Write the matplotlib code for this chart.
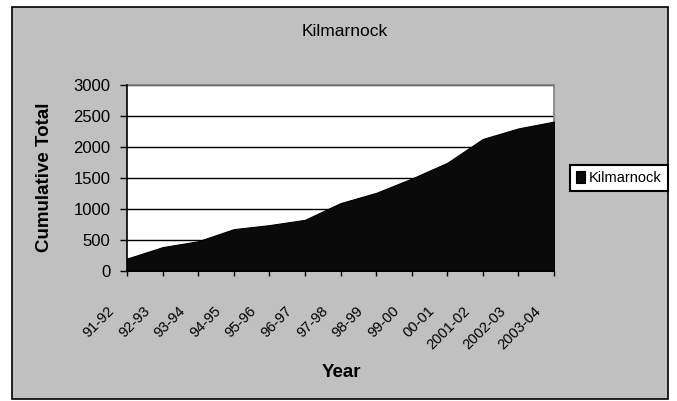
import matplotlib
matplotlib.use("Agg")
import matplotlib.pyplot as plt
import matplotlib.transforms as mtransforms
from matplotlib.patches import Rectangle
import numpy as np

plt.rcParams["font.family"] = ["Liberation Sans", "DejaVu Sans"]

PNG_OUT = "out.png"

TITLE = "Kilmarnock"
SERIES_NAME = "Kilmarnock"
YEARS = ["91-92", "92-93", "93-94", "94-95", "95-96", "96-97", "97-98",
         "98-99", "99-00", "00-01", "2001-02", "2002-03", "2003-04"]
CUMULATIVE = [200, 385, 480, 675, 740, 825, 1095, 1260, 1490, 1745, 2130, 2300, 2410]
Y_TICKS = [0, 500, 1000, 1500, 2000, 2500, 3000]

W, H = 677, 401


def plot_cumulative(path=PNG_OUT):
    fig = plt.figure(figsize=(W / 100, H / 100), dpi=100, facecolor="white")

    # grey chart area with black border, kept behind the axes
    fig.patches.append(Rectangle((12 / W, 2 / H), 656 / W, 392 / H,
                                 transform=fig.transFigure, facecolor="#c0c0c0",
                                 edgecolor="black", linewidth=1.2, zorder=-10))

    ax = fig.add_axes([127 / W, 1 - 271 / H, 427 / W, 186 / H])
    ax.set_zorder(1)
    ax.set_facecolor("white")

    x = np.arange(len(YEARS))
    ax.fill_between(x, CUMULATIVE, 0, facecolor="#0a0a0a", edgecolor="black",
                    linewidth=0.8, label=SERIES_NAME, zorder=3)

    ax.set_xlim(0, len(YEARS) - 1)
    ax.set_ylim(0, 3000)
    ax.set_yticks(Y_TICKS)
    ax.yaxis.grid(True, color="black", linewidth=1.0)
    ax.set_axisbelow(True)

    for side in ("top", "right"):
        ax.spines[side].set_color("#808080")
        ax.spines[side].set_linewidth(1.2)
    for side in ("left", "bottom"):
        ax.spines[side].set_color("black")
        ax.spines[side].set_linewidth(1.2)
        ax.spines[side].set_zorder(4)

    ax.tick_params(axis="y", direction="out", length=5, width=1, pad=7,
                   labelsize=12)
    ax.tick_params(axis="x", direction="out", length=3.6, width=1, pad=20,
                   labelsize=10.5)
    ax.set_xticks(x)
    ax.set_xticklabels(YEARS, rotation=45, ha="right", va="top")
    shift = mtransforms.ScaledTranslation(-0.10, 0, fig.dpi_scale_trans)
    for lbl in ax.get_xticklabels():
        lbl.set_transform(lbl.get_transform() + shift)

    ax.set_ylabel("Cumulative Total", fontsize=13.5, fontweight="bold")
    ax.yaxis.label.set_va("center")
    ax.yaxis.set_label_coords((45 - 127) / 427, 0.505)
    ax.set_xlabel("Year", fontsize=13.5, fontweight="bold")
    ax.xaxis.label.set_va("center")
    ax.xaxis.set_label_coords(0.503, -0.547)

    fig.text(345 / W, 1 - 32 / H, TITLE, ha="center", va="center", fontsize=12.5)

    leg = fig.legend(loc="center left", bbox_to_anchor=(570 / W, 1 - 178 / H),
                     fontsize=10.5, frameon=True, fancybox=False,
                     handlelength=0.6, handleheight=0.9, handletextpad=0.3,
                     borderpad=0.4, borderaxespad=0)
    frame = leg.get_frame()
    frame.set_edgecolor("black")
    frame.set_linewidth(1.5)
    frame.set_facecolor("white")
    frame.set_alpha(1)

    fig.savefig(path, dpi=100, facecolor=fig.get_facecolor())
    plt.close(fig)


if __name__ == "__main__":
    plot_cumulative()
